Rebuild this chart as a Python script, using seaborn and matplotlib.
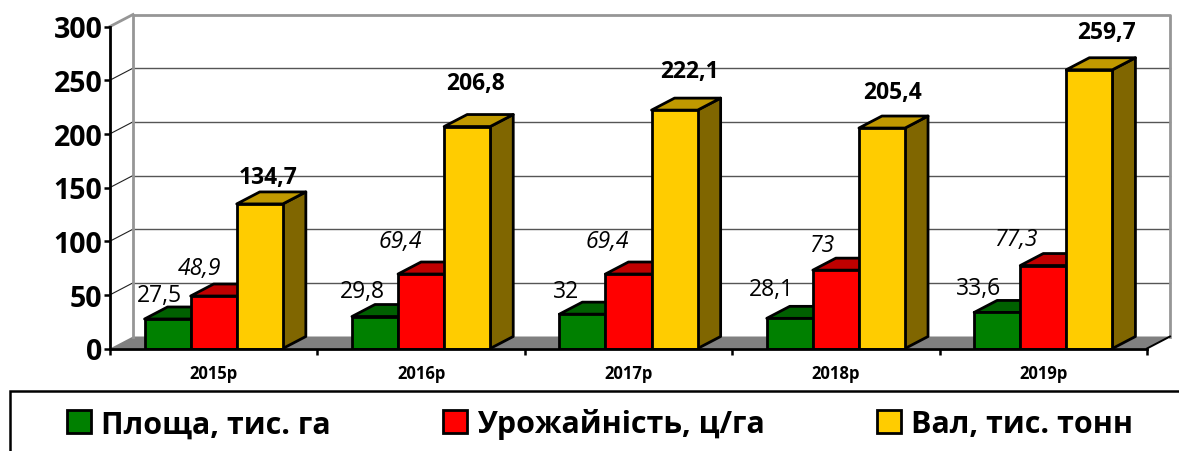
import matplotlib
matplotlib.use('Agg')
import pandas as pd
import matplotlib.pyplot as plt
import seaborn as sns
from matplotlib.patches import Polygon, Patch, Rectangle

years = ['2015р', '2016р', '2017р', '2018р', '2019р']
series_names = ['Площа, тис. га', 'Урожайність, ц/га', 'Вал, тис. тонн']
area = [27.5, 29.8, 32, 28.1, 33.6]
yield_ = [48.9, 69.4, 69.4, 73, 77.3]
total = [134.7, 206.8, 222.1, 205.4, 259.7]
y_ticks = [0, 50, 100, 150, 200, 250, 300]

front_colors = ['#008000', '#FF0000', '#FFCC00']
top_colors = ['#006000', '#C00000', '#C09900']
side_colors = ['#004000', '#800000', '#806600']

# зсув підписів відносно верху стовпчика, пікселі
area_offsets = [(-8, 24), (-13, 26), (-16, 23), (-18, 29), (-19, 24)]
yield_offsets = [(-14, 28), (-21, 33), (-21, 33), (-14, 25), (-27, 27)]
total_offsets = [(8, 27), (8, 44), (15, 39), (11, 36), (17, 38)]

W, H = 1179, 452
plt.rcParams['font.family'] = ['Open Sans', 'DejaVu Sans']

df = pd.DataFrame({'year': years * 3,
                   'series': sum([[s] * 5 for s in series_names], []),
                   'value': area + yield_ + total})

fig = plt.figure(figsize=(W / 100, H / 100), dpi=100)
ax = fig.add_axes([110 / W, (H - 349.5) / H, 1037 / W, 322 / H])

sns.barplot(data=df, x='year', y='value', hue='series', hue_order=series_names,
            palette=front_colors, saturation=1, width=2 / 3, gap=0,
            edgecolor='black', linewidth=2, legend=False, ax=ax)
ax.set_xlim(-0.5, 4.5)
ax.set_ylim(0, 300)
ax.set_xlabel('')
ax.set_ylabel('')

# глибина 3D у координатах даних
dx = 23 / (1037 / 5)
dy = 12 / (322 / 300)

# підлога і стінки
ax.add_patch(Polygon([(-0.5, 0), (4.5, 0), (4.5 + dx, dy), (-0.5 + dx, dy)],
                     facecolor='#808080', edgecolor='none', clip_on=False, zorder=0.6))
wall = '#969696'
ax.plot([-0.5 + dx, -0.5 + dx, 4.5 + dx, 4.5 + dx], [dy, 300 + dy, 300 + dy, dy],
        color=wall, lw=2, clip_on=False, zorder=0.8)
ax.plot([-0.5, -0.5 + dx], [300, 300 + dy], color=wall, lw=2, clip_on=False, zorder=0.8)
for t in y_ticks[1:-1]:
    ax.plot([-0.5, -0.5 + dx], [t, t + dy], color='#202020', lw=0.8, clip_on=False, zorder=0.7)
    ax.plot([-0.5 + dx, 4.5 + dx], [t + dy, t + dy], color='#555555', lw=1, clip_on=False, zorder=0.7)
ax.plot([4.5, 4.5 + dx], [0, dy], color='black', lw=1.4, clip_on=False, zorder=0.9)

# бокові і верхні грані стовпчиків
values = [area, yield_, total]
offsets = [area_offsets, yield_offsets, total_offsets]
for k, cont in enumerate(ax.containers):
    for i, bar in enumerate(cont):
        x0, w, h = bar.get_x(), bar.get_width(), bar.get_height()
        z = 3 + k + i * 3
        bar.set_zorder(z + 0.2)
        ax.add_patch(Polygon([(x0 + w, 0), (x0 + w + dx, dy), (x0 + w + dx, h + dy), (x0 + w, h)],
                             facecolor=side_colors[k], edgecolor='black', lw=2,
                             joinstyle='round', clip_on=False, zorder=z))
        ax.add_patch(Polygon([(x0, h), (x0 + dx, h + dy), (x0 + w + dx, h + dy), (x0 + w, h)],
                             facecolor=top_colors[k], edgecolor='black', lw=2,
                             joinstyle='round', clip_on=False, zorder=z))
        style = {0: {}, 1: {'fontstyle': 'italic'}, 2: {'fontweight': 'bold'}}[k]
        ax.annotate(f'{values[k][i]:g}'.replace('.', ','), xy=(x0 + w / 2, h),
                    xytext=offsets[k][i], textcoords='offset pixels', ha='center', va='center',
                    fontsize=16.5, color='black', zorder=40, annotation_clip=False, **style)

# осі
for s in ['top', 'right']:
    ax.spines[s].set_visible(False)
for s in ['left', 'bottom']:
    ax.spines[s].set_linewidth(2)
    ax.spines[s].set_zorder(30)
ax.set_yticks(y_ticks)
ax.set_yticklabels([str(t) for t in y_ticks], fontsize=20.5, fontweight='bold')
ax.tick_params(axis='y', length=4.5, width=1.8, pad=1)
ax.set_xticks(range(5))
ax.set_xticklabels(years, fontsize=12, fontweight='bold')
ax.tick_params(axis='x', length=0, pad=11)
ax.set_xticks([-0.5, 0.5, 1.5, 2.5, 3.5, 4.5], minor=True)
ax.tick_params(axis='x', which='minor', length=4, width=1.8, direction='out')

# легенда: рамка виходить за край рисунка
fig.add_artist(Rectangle((10 / W, -0.1), 1.1, (H - 392) / H + 0.1, transform=fig.transFigure,
                         facecolor='white', edgecolor='black', lw=1.8))
handles = [Patch(facecolor=c, edgecolor='black', lw=2) for c in front_colors]
fig.legend(handles, series_names, loc='center left', bbox_to_anchor=(40 / W, (H - 425) / H),
           ncol=3, frameon=False, handlelength=0.79, handleheight=0.79,
           handletextpad=0.33, columnspacing=3.68, prop={'weight': 'bold', 'size': 21.9})

fig.savefig('out.png', dpi=100)
